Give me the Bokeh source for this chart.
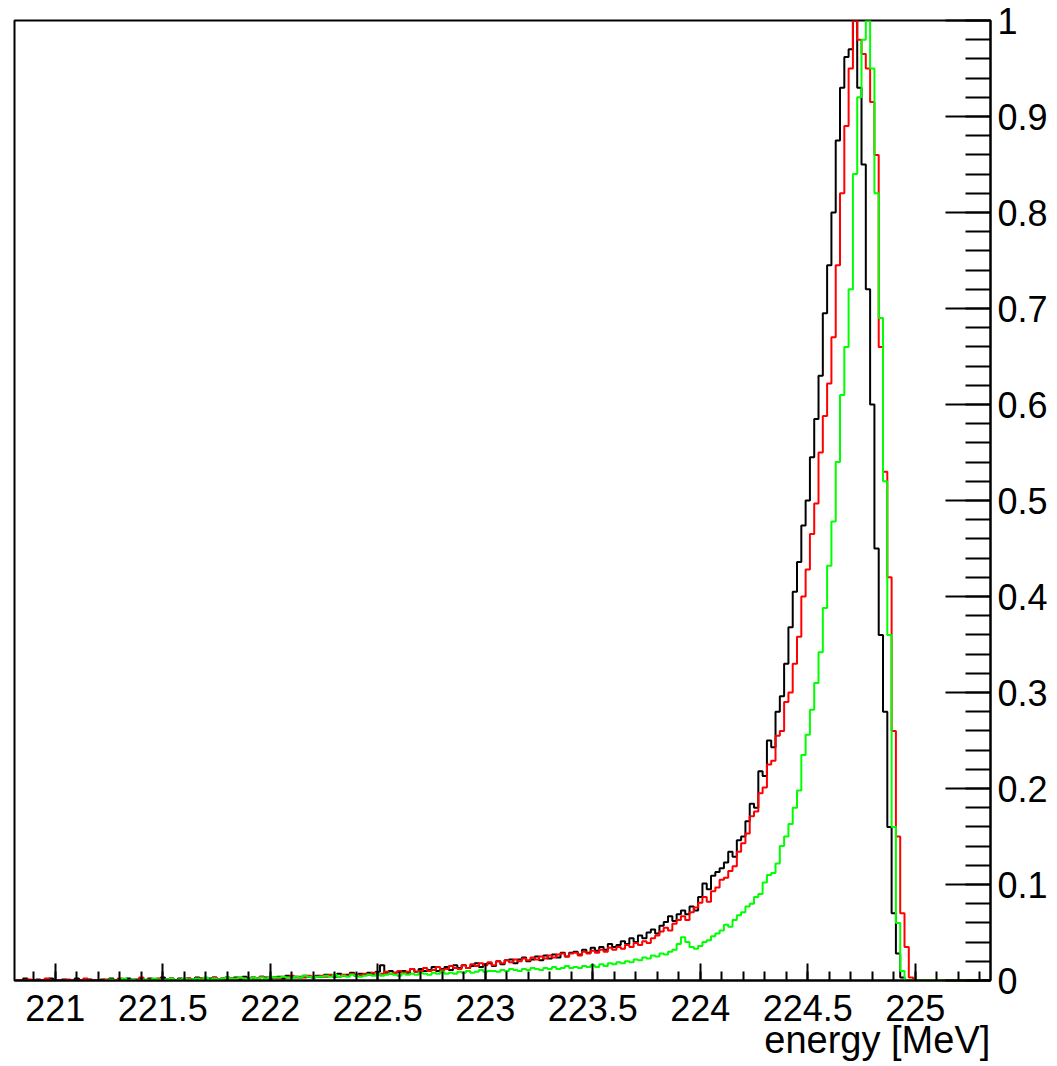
import numpy as np
from bokeh.plotting import figure
from bokeh.models import FixedTicker, Range1d
from bokeh.embed import file_html
from bokeh.resources import INLINE

# ---------------- data ----------------
BIN_WIDTH = 0.02          # MeV
BLACK_RED_START = 220.81  # lower edge of first bin (black & red histograms)
GREEN_START = 221.23      # lower edge of first bin (green histogram)

black = [
    0, 0, 0.002, 0, 0, 0.001, 0, 0, 0.002, 0,
    0, 0.001, 0, 0, 0.002, 0, 0, 0.001, 0, 0,
    0.001, 0, 0.002, 0, 0.001, 0, 0.002, 0, 0.001, 0.002,
    0, 0.002, 0.001, 0, 0.003, 0.001, 0.002, 0, 0.002, 0.001,
    0.002, 0.001, 0.003, 0.002, 0, 0.002, 0.003, 0.001, 0.002, 0.003,
    0.002, 0.003, 0.001, 0.004, 0.002, 0.003, 0.002, 0.004, 0.003, 0.002,
    0.003, 0.004, 0.002, 0.005, 0.003, 0.004, 0.003, 0.005, 0.004, 0.003,
    0.005, 0.004, 0.006, 0.005, 0.004, 0.007, 0.005, 0.006, 0.008, 0.005,
    0.007, 0.006, 0.008, 0.007, 0.009, 0.016, 0.008, 0.010, 0.008, 0.009,
    0.010, 0.008, 0.012, 0.009, 0.012, 0.010, 0.011, 0.014, 0.010, 0.012,
    0.014, 0.011, 0.016, 0.013, 0.016, 0.013, 0.015, 0.018, 0.014, 0.017,
    0.018, 0.015, 0.020, 0.017, 0.021, 0.022, 0.018, 0.022, 0.024, 0.020,
    0.022, 0.025, 0.021, 0.026, 0.023, 0.027, 0.024, 0.029, 0.025, 0.029,
    0.030, 0.027, 0.032, 0.029, 0.034, 0.031, 0.035, 0.032, 0.038, 0.035,
    0.037, 0.041, 0.038, 0.044, 0.040, 0.047, 0.044, 0.050, 0.053, 0.049,
    0.057, 0.061, 0.067, 0.062, 0.069, 0.073, 0.069, 0.077, 0.073, 0.087,
    0.101, 0.095, 0.109, 0.113, 0.117, 0.123, 0.134, 0.129, 0.146, 0.150,
    0.166, 0.184, 0.180, 0.218, 0.213, 0.250, 0.243, 0.280, 0.296, 0.330,
    0.368, 0.405, 0.436, 0.474, 0.500, 0.545, 0.585, 0.630, 0.695, 0.745,
    0.800, 0.875, 0.930, 0.962, 0.970, 1.000, 0.930, 0.850, 0.720, 0.600,
    0.450, 0.360, 0.280, 0.160, 0.070, 0.028, 0.003, 0, 0, 0,
    0, 0, 0, 0, 0, 0, 0, 0, 0, 0,
    0, 0, 0, 0, 0, 0, 0,
]

red = [
    0, 0, 0, 0.001, 0, 0, 0, 0.002, 0, 0,
    0, 0, 0.001, 0, 0, 0, 0.002, 0, 0, 0,
    0, 0.001, 0, 0, 0.002, 0, 0, 0.001, 0, 0.003,
    0, 0.001, 0, 0.002, 0, 0.001, 0.002, 0, 0.001, 0,
    0.002, 0, 0.001, 0.002, 0.001, 0, 0.003, 0.001, 0.002, 0.001,
    0.002, 0.001, 0.003, 0.002, 0.001, 0.003, 0.002, 0.004, 0.002, 0.003,
    0.003, 0.002, 0.004, 0.003, 0.005, 0.003, 0.004, 0.003, 0.005, 0.004,
    0.004, 0.005, 0.004, 0.006, 0.005, 0.004, 0.006, 0.005, 0.007, 0.006,
    0.005, 0.007, 0.006, 0.008, 0.006, 0.007, 0.009, 0.007, 0.008, 0.010,
    0.008, 0.009, 0.012, 0.009, 0.010, 0.013, 0.010, 0.011, 0.014, 0.011,
    0.012, 0.015, 0.013, 0.012, 0.016, 0.013, 0.017, 0.015, 0.018, 0.016,
    0.019, 0.016, 0.020, 0.018, 0.021, 0.019, 0.022, 0.020, 0.023, 0.021,
    0.024, 0.022, 0.025, 0.023, 0.026, 0.024, 0.027, 0.028, 0.025, 0.028,
    0.029, 0.026, 0.030, 0.028, 0.031, 0.029, 0.032, 0.030, 0.034, 0.032,
    0.035, 0.033, 0.037, 0.035, 0.039, 0.037, 0.041, 0.039, 0.044, 0.047,
    0.051, 0.055, 0.052, 0.059, 0.063, 0.067, 0.063, 0.071, 0.076, 0.081,
    0.087, 0.082, 0.093, 0.097, 0.105, 0.107, 0.114, 0.119, 0.134, 0.143,
    0.153, 0.171, 0.176, 0.195, 0.201, 0.225, 0.229, 0.255, 0.260, 0.290,
    0.300, 0.330, 0.358, 0.400, 0.428, 0.465, 0.497, 0.550, 0.588, 0.622,
    0.670, 0.745, 0.820, 0.890, 0.950, 1.000, 0.980, 0.965, 0.950, 0.915,
    0.860, 0.660, 0.530, 0.420, 0.260, 0.150, 0.070, 0.035, 0.003, 0,
    0, 0, 0, 0, 0, 0, 0, 0, 0, 0,
    0, 0, 0, 0, 0, 0, 0,
]

green = [
    0, 0.001, 0, 0, 0.002, 0, 0.001, 0, 0, 0.001,
    0, 0.002, 0.001, 0, 0.001, 0.002, 0, 0.001, 0.002, 0.001,
    0.001, 0.002, 0.001, 0.003, 0.001, 0.002, 0.001, 0.002, 0.003, 0.002,
    0.002, 0.003, 0.002, 0.001, 0.003, 0.002, 0.003, 0.002, 0.004, 0.003,
    0.003, 0.004, 0.003, 0.002, 0.004, 0.003, 0.005, 0.004, 0.003, 0.004,
    0.004, 0.005, 0.004, 0.006, 0.004, 0.005, 0.004, 0.006, 0.005, 0.004,
    0.005, 0.006, 0.005, 0.007, 0.005, 0.006, 0.007, 0.006, 0.005, 0.007,
    0.006, 0.007, 0.006, 0.008, 0.007, 0.006, 0.008, 0.007, 0.009, 0.007,
    0.008, 0.007, 0.009, 0.008, 0.010, 0.008, 0.009, 0.011, 0.009, 0.010,
    0.010, 0.009, 0.011, 0.010, 0.012, 0.011, 0.010, 0.012, 0.011, 0.013,
    0.012, 0.011, 0.013, 0.012, 0.014, 0.012, 0.013, 0.015, 0.013, 0.014,
    0.013, 0.015, 0.014, 0.016, 0.014, 0.017, 0.015, 0.018, 0.017, 0.019,
    0.018, 0.020, 0.019, 0.022, 0.021, 0.024, 0.023, 0.026, 0.025, 0.028,
    0.027, 0.030, 0.032, 0.038, 0.045, 0.040, 0.035, 0.033, 0.036, 0.040,
    0.042, 0.046, 0.049, 0.052, 0.058, 0.056, 0.063, 0.068, 0.071, 0.077,
    0.080, 0.087, 0.090, 0.102, 0.110, 0.112, 0.122, 0.140, 0.150, 0.163,
    0.180, 0.198, 0.235, 0.256, 0.282, 0.310, 0.342, 0.388, 0.432, 0.478,
    0.540, 0.610, 0.660, 0.720, 0.840, 0.920, 0.980, 1.000, 0.950, 0.820,
    0.690, 0.520, 0.360, 0.160, 0.060, 0.010, 0, 0, 0, 0,
    0, 0, 0, 0, 0, 0, 0, 0, 0, 0,
    0, 0, 0,
]

x_major_ticks = [221.0, 221.5, 222.0, 222.5, 223.0, 223.5, 224.0, 224.5, 225.0]
x_tick_labels = ["221", "221.5", "222", "222.5", "223", "223.5", "224", "224.5", "225"]
x_minor_ticks = [round(220.9 + 0.1 * i, 1) for i in range(45)]

y_major_ticks = [0, 0.1, 0.2, 0.3, 0.4, 0.5, 0.6, 0.7, 0.8, 0.9, 1]
y_tick_labels = ["0", "0.1", "0.2", "0.3", "0.4", "0.5", "0.6", "0.7", "0.8", "0.9", "1"]
y_minor_ticks = [round(0.02 * i, 2) for i in range(51)]

x_title = "energy [MeV]"

X_MIN, X_MAX = 220.81, 225.35

# ---------------- figure ----------------
FONT = "Liberation Sans"

p = figure(
    frame_width=976, frame_height=960,
    x_range=Range1d(X_MIN, X_MAX), y_range=Range1d(0, 1),
    x_axis_location="below", y_axis_location="right",
    output_backend="svg", toolbar_location=None,
    min_border_left=14, min_border_top=20, min_border_right=0, min_border_bottom=0,
    background_fill_color="white", border_fill_color="white",
)
p.xgrid.visible = False
p.ygrid.visible = False
p.outline_line_color = "black"
p.outline_line_width = 2


def hist_step(values, start, color):
    edges = start + BIN_WIDTH * np.arange(len(values) + 1)
    ys = list(values) + [values[-1]]
    p.step(edges, ys, mode="after", line_color=color, line_width=2)


hist_step(black, BLACK_RED_START, "#000000")
hist_step(red, BLACK_RED_START, "#ff0000")
hist_step(green, GREEN_START, "#00ff00")

# x axis
xa = p.xaxis[0]
xa.ticker = FixedTicker(ticks=x_major_ticks, minor_ticks=x_minor_ticks)
xa.major_label_overrides = {t: l for t, l in zip(x_major_ticks, x_tick_labels)}
xa.major_tick_in = 17
xa.major_tick_out = 0
xa.minor_tick_in = 9
xa.minor_tick_out = 0
xa.major_label_standoff = 14

# axis title, pushed to the right end of the axis (ROOT style) by leading
# non-breaking spaces, since the centred label cannot be right-aligned
xa.axis_label = "\u00a0" * 71 + x_title
xa.axis_label_text_font = FONT
xa.axis_label_text_font_size = "38px"
xa.axis_label_text_font_style = "normal"
xa.axis_label_text_color = "black"
xa.axis_label_standoff = -5

# y axis
ya = p.yaxis[0]
ya.ticker = FixedTicker(ticks=y_major_ticks, minor_ticks=y_minor_ticks)
ya.major_label_overrides = {t: l for t, l in zip(y_major_ticks, y_tick_labels)}
ya.major_tick_in = 45
ya.major_tick_out = 0
ya.minor_tick_in = 25
ya.minor_tick_out = 0
ya.major_label_standoff = 7

for ax in (xa, ya):
    ax.major_label_text_font = FONT
    ax.major_label_text_font_size = "36px"
    ax.major_label_text_color = "black"
    ax.axis_line_color = "black"
    ax.axis_line_width = 2
    ax.major_tick_line_color = "black"
    ax.major_tick_line_width = 2
    ax.minor_tick_line_color = "black"
    ax.minor_tick_line_width = 2

open("out.html", "w").write(file_html(p, INLINE))
